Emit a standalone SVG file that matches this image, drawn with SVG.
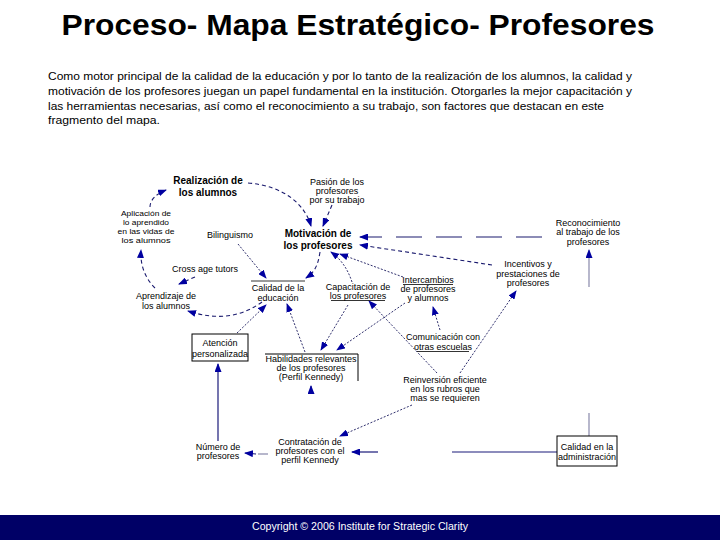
<svg xmlns="http://www.w3.org/2000/svg" width="720" height="540" viewBox="0 0 720 540">
<style>
.t{font-family:"Liberation Sans",Arial,sans-serif;font-size:9px;fill:#000;text-anchor:middle}
.s{font-family:"Liberation Sans",Arial,sans-serif;font-size:8px;fill:#000;text-anchor:middle}
.b{font-family:"Liberation Sans",Arial,sans-serif;font-size:10px;font-weight:bold;fill:#000;text-anchor:middle}
.p{font-family:"Liberation Sans",Arial,sans-serif;font-size:11px;fill:#000}
.dot{fill:none;stroke:#1a1a5e;stroke-width:0.9;stroke-dasharray:2 1.6}
.dash{fill:none;stroke:#1a1a6e;stroke-width:1.1;stroke-dasharray:4 3}
.ldash{fill:none;stroke:#1a1a6e;stroke-width:1.2;stroke-dasharray:26 14}
.sol{fill:none;stroke:#1a1a7a;stroke-width:1.2}
.gry{fill:none;stroke:#8888aa;stroke-width:1.2}
.box{fill:#fff;stroke:#000;stroke-width:1}
.ul{stroke:#000;stroke-width:0.8}
</style>
<defs>
<marker id="ar" markerUnits="userSpaceOnUse" markerWidth="9" markerHeight="7" refX="8" refY="3.5" orient="auto">
<path d="M0,0 L9,3.5 L0,7 z" fill="#0000a0"/>
</marker>
</defs>
<rect width="720" height="540" fill="#fff"/>
<text x="358" y="35" font-family="'Liberation Sans',Arial,sans-serif" font-size="29" font-weight="bold" text-anchor="middle" textLength="593" lengthAdjust="spacingAndGlyphs">Proceso- Mapa Estratégico- Profesores</text>
<g id="intro">
<text class="p" x="48" y="80" textLength="584" lengthAdjust="spacingAndGlyphs">Como motor principal de la calidad de la educación y por lo tanto de la realización de los alumnos, la calidad y</text>
<text class="p" x="48" y="95" textLength="584" lengthAdjust="spacingAndGlyphs">motivación de los profesores juegan un papel fundamental en la institución. Otorgarles la mejor capacitación y</text>
<text class="p" x="48" y="110" textLength="556" lengthAdjust="spacingAndGlyphs">las herramientas necesarias, así como el reconocimiento a su trabajo, son factores que destacan en este</text>
<text class="p" x="48" y="124" textLength="112" lengthAdjust="spacingAndGlyphs">fragmento del mapa.</text>
</g>
<g id="connectors">
<path class="dash" d="M248,183 C285,186 305,205 311,226" marker-end="url(#ar)"/>
<path class="dash" d="M150,207 C150,200 156,194 166,190" marker-end="url(#ar)"/>
<path class="dash" d="M155,288 C145,278 140,265 141,250" marker-end="url(#ar)"/>
<path class="dash" d="M195,277 L179,284" marker-end="url(#ar)"/>
<path class="dash" d="M262,302 C240,318 215,320 188,311" marker-end="url(#ar)"/>
<path class="dot" d="M238,244 L266,278" marker-end="url(#ar)"/>
<path class="dash" d="M320,252 C318,265 315,272 306,278" marker-end="url(#ar)"/>
<path class="dash" d="M332,205 L323,226" marker-end="url(#ar)"/>
<path class="dot" d="M352,282 C348,270 342,260 331,252" marker-end="url(#ar)"/>
<path class="dot" d="M403,277 L340,254" marker-end="url(#ar)"/>
<path class="dash" d="M492,265 L360,245" marker-end="url(#ar)"/>
<path class="ldash" d="M542,237 L360,237" marker-end="url(#ar)"/>
<path class="gry" d="M589,436 L589,413"/>
<path class="gry" d="M589,287 L589,250" marker-end="url(#ar)"/>
<path class="sol" d="M557,452 L452,452"/>
<path class="sol" d="M378,452 L352,452" marker-end="url(#ar)"/>
<path class="gry" d="M268,454 L258,454"/>
<path class="sol" d="M256,454 L245,453" marker-end="url(#ar)"/>
<path class="sol" d="M218,441 L218,364" marker-end="url(#ar)"/>
<path class="dot" d="M237,333 L266,305" marker-end="url(#ar)"/>
<path class="dot" d="M305,352 L287,304" marker-end="url(#ar)"/>
<path class="dot" d="M348,305 L321,350" marker-end="url(#ar)"/>
<path class="dot" d="M405,303 L337,350" marker-end="url(#ar)"/>
<path class="dot" d="M437,373 L369,301" marker-end="url(#ar)"/>
<path class="dot" d="M440,330 L433,307" marker-end="url(#ar)"/>
<path class="dot" d="M460,373 L516,291" marker-end="url(#ar)"/>
<path class="dot" d="M412,405 L340,436" marker-end="url(#ar)"/>
<path class="sol" d="M311,393 L311,386" marker-end="url(#ar)"/>
</g>
<g id="realizacion"><text class="b" x="208" y="184">Realización de</text><text class="b" x="208" y="196">los alumnos</text></g>
<g id="pasion"><text class="t" x="337" y="185">Pasión de los</text><text class="t" x="337" y="194">profesores</text><text class="t" x="337" y="203">por su trabajo</text></g>
<g id="motivacion"><text class="b" x="318" y="237">Motivación de</text><text class="b" x="318" y="249">los profesores</text></g>
<g id="aplicacion"><text class="s" x="146" y="216" textLength="50" lengthAdjust="spacingAndGlyphs">Aplicación de</text><text class="s" x="146" y="225" textLength="46" lengthAdjust="spacingAndGlyphs">lo aprendido</text><text class="s" x="146" y="234" textLength="57" lengthAdjust="spacingAndGlyphs">en las vidas de</text><text class="s" x="146" y="243" textLength="49" lengthAdjust="spacingAndGlyphs">los alumnos</text></g>
<g id="bilinguismo"><text class="t" x="230" y="238">Bilinguismo</text></g>
<g id="crossage"><text class="t" x="205" y="272">Cross age tutors</text></g>
<g id="aprendizaje"><text class="t" x="166" y="299">Aprendizaje de</text><text class="t" x="166" y="309">los alumnos</text></g>
<g id="calidad"><line class="ul" x1="251" y1="281" x2="305" y2="281"/><text class="t" x="278" y="291">Calidad de la</text><text class="t" x="278" y="301">educación</text></g>
<g id="capacitacion"><text class="t" x="358" y="290">Capacitación de</text><text class="t" x="358" y="299">los profesores</text><line class="ul" x1="331" y1="300.5" x2="385" y2="300.5"/></g>
<g id="intercambios"><text class="t" x="428" y="283">Intercambios</text><line class="ul" x1="403" y1="284.5" x2="453" y2="284.5"/><text class="t" x="428" y="292">de profesores</text><text class="t" x="428" y="301">y alumnos</text></g>
<g id="incentivos"><text class="t" x="528" y="267">Incentivos y</text><text class="t" x="528" y="277">prestaciones de</text><text class="t" x="528" y="286">profesores</text></g>
<g id="reconocimiento"><text class="t" x="588" y="226">Reconocimiento</text><text class="t" x="588" y="235">al trabajo de los</text><text class="t" x="588" y="245">profesores</text></g>
<g id="atencion"><rect class="box" x="192" y="334" width="56" height="27"/><text class="t" x="220" y="346">Atención</text><text class="t" x="220" y="357">personalizada</text></g>
<g id="habilidades"><path d="M265,354 L358,354 L358,381" fill="none" stroke="#000" stroke-width="1"/><text class="t" x="311" y="362">Habilidades relevantes</text><text class="t" x="311" y="371">de los profesores</text><text class="t" x="311" y="380">(Perfil Kennedy)</text></g>
<g id="comunicacion"><text class="t" x="443" y="340">Comunicación con</text><text class="t" x="443" y="350">otras escuelas</text><line class="ul" x1="417" y1="351.5" x2="469" y2="351.5"/></g>
<g id="reinversion"><text class="t" x="445" y="383">Reinversión eficiente</text><text class="t" x="445" y="392">en los rubros que</text><text class="t" x="445" y="401">mas se requieren</text></g>
<g id="numero"><text class="t" x="218" y="450">Número de</text><text class="t" x="218" y="459">profesores</text></g>
<g id="contratacion"><text class="t" x="310" y="445">Contratación de</text><text class="t" x="310" y="454">profesores con el</text><text class="t" x="310" y="463">perfil Kennedy</text></g>
<g id="administracion"><rect class="box" x="557" y="436" width="60" height="30"/><text class="t" x="587" y="450">Calidad en la</text><text class="t" x="587" y="460">administración</text></g>
<g id="footer"><rect x="0" y="515" width="720" height="25" fill="#000066"/><text x="360" y="530" font-family="'Liberation Sans',Arial,sans-serif" font-size="10" fill="#fff" text-anchor="middle" textLength="216" lengthAdjust="spacingAndGlyphs">Copyright © 2006 Institute for Strategic Clarity</text></g>
</svg>
